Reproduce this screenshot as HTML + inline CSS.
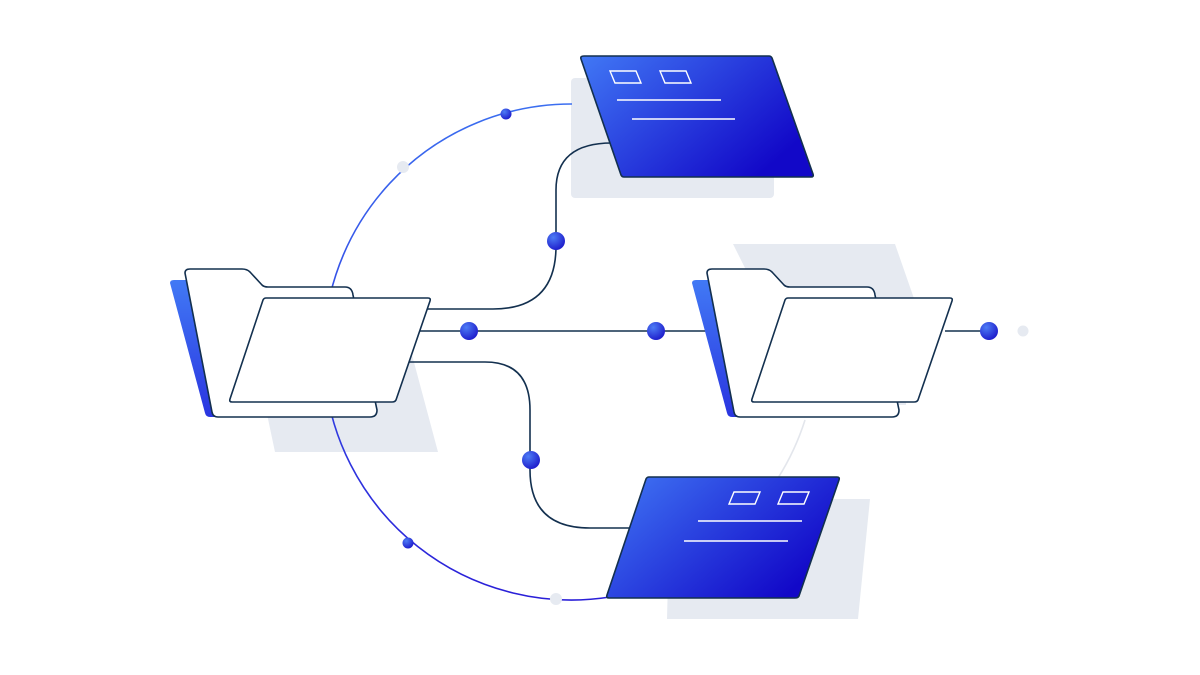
<!DOCTYPE html>
<html><head><meta charset="utf-8"><style>html,body{margin:0;padding:0;background:#fff}svg{display:block}</style></head><body>
<svg width="1200" height="675" viewBox="0 0 1200 675" xmlns="http://www.w3.org/2000/svg">
<defs>
<linearGradient id="cg" x1="0" y1="0" x2="1" y2="0.6"><stop offset="0" stop-color="#4178f5"/><stop offset="1" stop-color="#1208c8"/></linearGradient>
<linearGradient id="ag" x1="0" y1="0" x2="0" y2="1"><stop offset="0" stop-color="#3b6ef0"/><stop offset="1" stop-color="#2a1fd8"/></linearGradient>
<linearGradient id="bp" x1="0" y1="0" x2="0" y2="1"><stop offset="0" stop-color="#4179f5"/><stop offset="1" stop-color="#2a35e0"/></linearGradient>
<radialGradient id="dg" cx="0.35" cy="0.3" r="0.8"><stop offset="0" stop-color="#4d7cf5"/><stop offset="1" stop-color="#1a14c8"/></radialGradient>
</defs>
<!-- shadows -->
<path d="M245 310 L400 310 L438 452 L275 452 Z" fill="#e6eaf1"/>
<path d="M733 244 L895 244 L918 310 L766 310 Z" fill="#e6eaf1"/>
<rect x="766" y="310" width="140" height="95" fill="#e6eaf1"/>
<rect x="571" y="78" width="203" height="120" rx="4" fill="#e6eaf1"/>
<path d="M670 499 L870 499 L858 619 L667 619 Z" fill="#e6eaf1"/>
<!-- arcs -->
<path d="M572 104 A248 248 0 1 0 610 597" fill="none" stroke="url(#ag)" stroke-width="1.6"/>
<path d="M805 420 A248 248 0 0 1 778 478" fill="none" stroke="#e3e6ec" stroke-width="1.6"/>
<!-- connectors -->
<g fill="none" stroke="#13304f" stroke-width="1.6">
<path d="M410 309 L493 309 Q556 309 556 246 L556 190 Q556 143 612 143"/>
<path d="M410 331 L710 331"/>
<path d="M945 331 L990 331"/>
<path d="M400 362 L485 362 Q530 362 530 410 L530 470 Q530 528 590 528 L630 528"/>
</g>
<!-- left folder -->
<path d="M170 283 Q170 280 174 280 L190 280 L215 417 L210 417 Q206 417 205 413 Z" fill="url(#bp)"/>
<path d="M185 273 Q185 269 190 269 L242 269 Q247 269 250 272 L262 285 Q264 287 268 287 L345 287 Q352 287 353 295 L377 410 Q377 417 370 417 L218 417 Q213 417 212 412 Z" fill="#fff" stroke="#13304f" stroke-width="1.6"/>
<path d="M266 298 L428 298 Q431 298 430 301 L396 400 Q395 402 392 402 L232 402 Q229 402 230 399 L263 300 Q264 298 266 298 Z" fill="#fff" stroke="#13304f" stroke-width="1.6"/>
<!-- right folder -->
<g transform="translate(522 0)">
<path d="M170 283 Q170 280 174 280 L190 280 L215 417 L210 417 Q206 417 205 413 Z" fill="url(#bp)"/>
<path d="M185 273 Q185 269 190 269 L242 269 Q247 269 250 272 L262 285 Q264 287 268 287 L345 287 Q352 287 353 295 L377 410 Q377 417 370 417 L218 417 Q213 417 212 412 Z" fill="#fff" stroke="#13304f" stroke-width="1.6"/>
<path d="M266 298 L428 298 Q431 298 430 301 L396 400 Q395 402 392 402 L232 402 Q229 402 230 399 L263 300 Q264 298 266 298 Z" fill="#fff" stroke="#13304f" stroke-width="1.6"/>
</g>
<!-- top card -->
<path d="M584 56 L769 56 Q771 56 772 58 L813 174 Q814 177 811 177 L624 177 Q622 177 621 175 L581 59 Q580 56 584 56 Z" fill="url(#cg)" stroke="#13304f" stroke-width="1.6"/>
<g fill="none" stroke="#fff" stroke-width="1.4">
<path d="M610 71 L636 71 L641 83 L615 83 Z"/><path d="M660 71 L686 71 L691 83 L665 83 Z"/>
<path d="M617 100 L721 100"/><path d="M632 119 L735 119"/>
</g>
<!-- bottom card -->
<path d="M649 477 L837 477 Q840 477 839 480 L799 596 Q798 598 795 598 L609 598 Q606 598 607 595 L646 479 Q647 477 649 477 Z" fill="url(#cg)" stroke="#13304f" stroke-width="1.6"/>
<g fill="none" stroke="#fff" stroke-width="1.4">
<path d="M734 492 L760 492 L755 504 L729 504 Z"/><path d="M783 492 L809 492 L804 504 L778 504 Z"/>
<path d="M698 521 L802 521"/><path d="M684 541 L788 541"/>
</g>
<!-- nodes -->
<g fill="url(#dg)">
<circle cx="469" cy="331" r="9"/><circle cx="656" cy="331" r="9"/><circle cx="989" cy="331" r="9"/>
<circle cx="556" cy="241" r="9"/><circle cx="531" cy="460" r="9"/>
<circle cx="506" cy="114" r="5.5"/><circle cx="408" cy="543" r="5.5"/>
</g>
<g fill="#e6eaf1">
<circle cx="1023" cy="331" r="5.5"/><circle cx="403" cy="167" r="6"/><circle cx="556" cy="599" r="6"/>
</g>
</svg>
</body></html>
